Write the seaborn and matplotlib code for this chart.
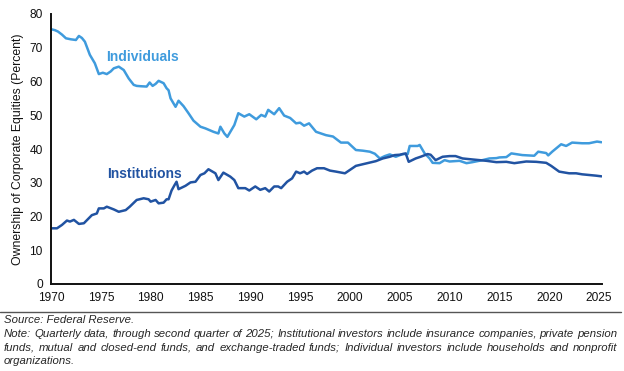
import matplotlib
matplotlib.use("Agg")
import matplotlib.pyplot as plt
import seaborn as sns
import pandas as pd
from matplotlib.lines import Line2D

ind_years = [1970.0, 1970.4, 1970.7, 1971.1, 1971.5, 1972.0, 1972.5, 1972.8, 1973.1, 1973.4,
             1973.9, 1974.4, 1974.8, 1975.2, 1975.6, 1976.0, 1976.3, 1976.8, 1977.3, 1977.8,
             1978.3, 1978.6, 1979.0, 1979.6, 1979.9, 1980.2, 1980.5, 1980.8, 1981.3, 1981.6,
             1981.8, 1982.0, 1982.5, 1982.8, 1983.3, 1983.8, 1984.3, 1985.0, 1985.5, 1986.3,
             1986.8, 1987.0, 1987.4, 1987.7, 1988.4, 1988.8, 1989.4, 1989.9, 1990.6, 1991.1,
             1991.5, 1991.8, 1992.4, 1992.9, 1993.4, 1994.0, 1994.6, 1995.0, 1995.4, 1995.9,
             1996.6, 1997.6, 1998.3, 1999.1, 1999.8, 2000.6, 2001.3, 2002.0, 2002.5, 2003.0,
             2003.5, 2004.0, 2004.6, 2005.3, 2005.8, 2006.0, 2006.8, 2007.0, 2007.5, 2008.0,
             2008.3, 2009.0, 2009.5, 2010.0, 2011.0, 2011.7, 2012.3, 2013.3, 2014.0, 2014.7,
             2015.0, 2015.7, 2016.2, 2017.3, 2018.5, 2018.9, 2019.7, 2019.9, 2020.3, 2021.2,
             2021.7, 2022.3, 2023.3, 2024.0, 2024.8, 2025.25]
ind_values = [75.5, 75.2, 74.8, 73.9, 72.8, 72.5, 72.3, 73.5, 72.9, 71.8,
              67.9, 65.4, 62.2, 62.6, 62.2, 63.0, 63.9, 64.4, 63.4, 60.9,
              59.0, 58.7, 58.6, 58.5, 59.7, 58.7, 59.3, 60.2, 59.5, 58.0,
              57.4, 55.0, 52.5, 54.3, 52.7, 50.6, 48.4, 46.6, 46.1, 45.1,
              44.6, 46.6, 44.6, 43.6, 47.1, 50.6, 49.6, 50.3, 48.8, 50.1,
              49.6, 51.6, 50.3, 52.1, 49.9, 49.2, 47.6, 47.8, 46.9, 47.6,
              45.1, 44.1, 43.7, 41.9, 41.9, 39.7, 39.5, 39.2, 38.6, 37.2,
              37.9, 38.4, 37.7, 38.5, 38.5, 40.9, 40.9, 41.2, 38.7, 37.2,
              35.9, 35.8, 36.7, 36.3, 36.5, 35.8, 36.1, 36.7, 37.2, 37.3,
              37.5, 37.6, 38.7, 38.2, 38.0, 39.2, 38.8, 38.1, 39.2, 41.4,
              40.9, 41.9, 41.7, 41.7, 42.2, 42.0]

inst_years = [1970.0, 1970.6, 1971.1, 1971.6, 1971.9, 1972.3, 1972.8, 1973.3, 1973.7, 1974.1,
              1974.6, 1974.8, 1975.3, 1975.6, 1976.3, 1976.8, 1977.5, 1977.9, 1978.6, 1979.3,
              1979.8, 1980.0, 1980.5, 1980.8, 1981.3, 1981.6, 1981.8, 1982.1, 1982.4, 1982.6,
              1982.8, 1983.5, 1984.0, 1984.5, 1985.0, 1985.4, 1985.8, 1986.5, 1986.8, 1987.3,
              1988.0, 1988.4, 1988.8, 1989.5, 1989.9, 1990.5, 1991.0, 1991.5, 1991.9, 1992.4,
              1992.8, 1993.1, 1993.7, 1994.2, 1994.6, 1995.0, 1995.4, 1995.7, 1996.2, 1996.7,
              1997.4, 1998.0, 1998.6, 1999.5, 2000.0, 2000.6, 2001.6, 2002.6, 2003.3, 2004.0,
              2004.5, 2005.0, 2005.6, 2005.9, 2006.6, 2007.1, 2007.8, 2008.1, 2008.6, 2009.3,
              2010.0, 2010.6, 2011.3, 2012.3, 2013.7, 2014.7, 2015.7, 2016.5, 2017.7, 2018.7,
              2019.7, 2020.2, 2021.0, 2022.0, 2022.7, 2023.3, 2024.0, 2024.7, 2025.25]
inst_values = [16.5, 16.5, 17.5, 18.8, 18.5, 19.0, 17.8, 18.0, 19.2, 20.4,
               20.9, 22.4, 22.4, 22.9, 22.1, 21.4, 21.9, 22.9, 24.9, 25.4,
               25.1, 24.4, 24.9, 23.9, 24.1, 25.1, 25.1, 27.7, 29.3, 30.3,
               28.1, 29.1, 30.1, 30.3, 32.3, 32.8, 34.0, 32.8, 30.8, 33.0,
               31.8, 30.8, 28.4, 28.4, 27.7, 28.9, 27.9, 28.4, 27.4, 28.9,
               28.9, 28.4, 30.3, 31.3, 33.3, 32.8, 33.3, 32.6, 33.6, 34.3,
               34.3, 33.6, 33.3, 32.8, 33.8, 35.0, 35.7, 36.4, 37.2, 37.7,
               38.2, 38.3, 38.7, 36.2, 37.2, 37.7, 38.5, 38.3, 36.7, 37.7,
               37.9, 37.9, 37.2, 36.9, 36.5, 36.1, 36.2, 35.8, 36.3, 36.2,
               35.9, 35.0, 33.3, 32.8, 32.8, 32.5, 32.3, 32.1, 31.9]

series_names = ["Individuals", "Institutions"]
series_colors = ["#3F9BDD", "#2153A2"]
x_ticks = [1970, 1975, 1980, 1985, 1990, 1995, 2000, 2005, 2010, 2015, 2020, 2025]
y_ticks = [0, 10, 20, 30, 40, 50, 60, 70, 80]
y_label = "Ownership of Corporate Equities (Percent)"
source_text = "Source: Federal Reserve."
note_lines = [
    "Note: Quarterly data, through second quarter of 2025; Institutional investors include insurance companies, private pension",
    "funds, mutual and closed-end funds, and exchange-traded funds; Individual investors include households and nonprofit",
    "organizations.",
]
note_justify = [True, True, False]

df = pd.concat([
    pd.DataFrame({"year": ind_years, "value": ind_values, "series": series_names[0]}),
    pd.DataFrame({"year": inst_years, "value": inst_values, "series": series_names[1]}),
])

sns.set_style("white")
plt.rcParams["font.family"] = ["Liberation Sans", "DejaVu Sans"]

W, H = 624, 371
fig = plt.figure(figsize=(W / 100, H / 100), dpi=100)
ax = fig.add_axes([51 / W, 1 - 284 / H, 551 / W, 270 / H])
sns.lineplot(data=df, x="year", y="value", hue="series", palette=series_colors,
             hue_order=series_names, linewidth=1.8, legend=False, ax=ax)

ax.set_xlim(1970, 2025.3)
ax.set_ylim(0, 80)
ax.set_xticks(x_ticks)
ax.set_yticks(y_ticks)
ax.set_xlabel("")
ax.set_ylabel(y_label, fontsize=8.8, color="#111111", labelpad=4)
ax.tick_params(axis="x", direction="in", length=4, width=1.2, labelsize=8.6, pad=6, colors="#111111")
ax.tick_params(axis="y", direction="out", length=4, width=1.2, labelsize=8.6, pad=2, colors="#111111")
for s in ["top", "right"]:
    ax.spines[s].set_visible(False)
for s in ["left", "bottom"]:
    ax.spines[s].set_color("#111111")
    ax.spines[s].set_linewidth(1.4)

ax.text(1979.2, 67.3, series_names[0], color=series_colors[0], fontsize=10,
        fontweight="bold", ha="center", va="center")
ax.text(1979.4, 32.6, series_names[1], color=series_colors[1], fontsize=10,
        fontweight="bold", ha="center", va="center")

fig.add_artist(Line2D([0.0, 0.995], [1 - 312 / H, 1 - 312 / H], color="#555555", linewidth=1.0))
fs_note = 8.2
fig.text(4 / W, 1 - 320 / H, source_text, fontsize=fs_note, style="italic", va="center", ha="left")

renderer = fig.canvas.get_renderer()
x_left, x_right = 4.0, 617.0
for i, line in enumerate(note_lines):
    yfig = 1 - (334 + 13.7 * i) / H
    if not note_justify[i]:
        fig.text(x_left / W, yfig, line, fontsize=fs_note, style="italic", va="center", ha="left")
        continue
    words = line.split(" ")
    widths = []
    for w in words:
        t = fig.text(0, 0, w, fontsize=fs_note, style="italic")
        widths.append(t.get_window_extent(renderer).width)
        t.remove()
    gap = (x_right - x_left - sum(widths)) / (len(words) - 1)
    xpos = x_left
    for w, wd in zip(words, widths):
        fig.text(xpos / W, yfig, w, fontsize=fs_note, style="italic", va="center", ha="left")
        xpos += wd + gap

fig.savefig("out.png", dpi=100)
